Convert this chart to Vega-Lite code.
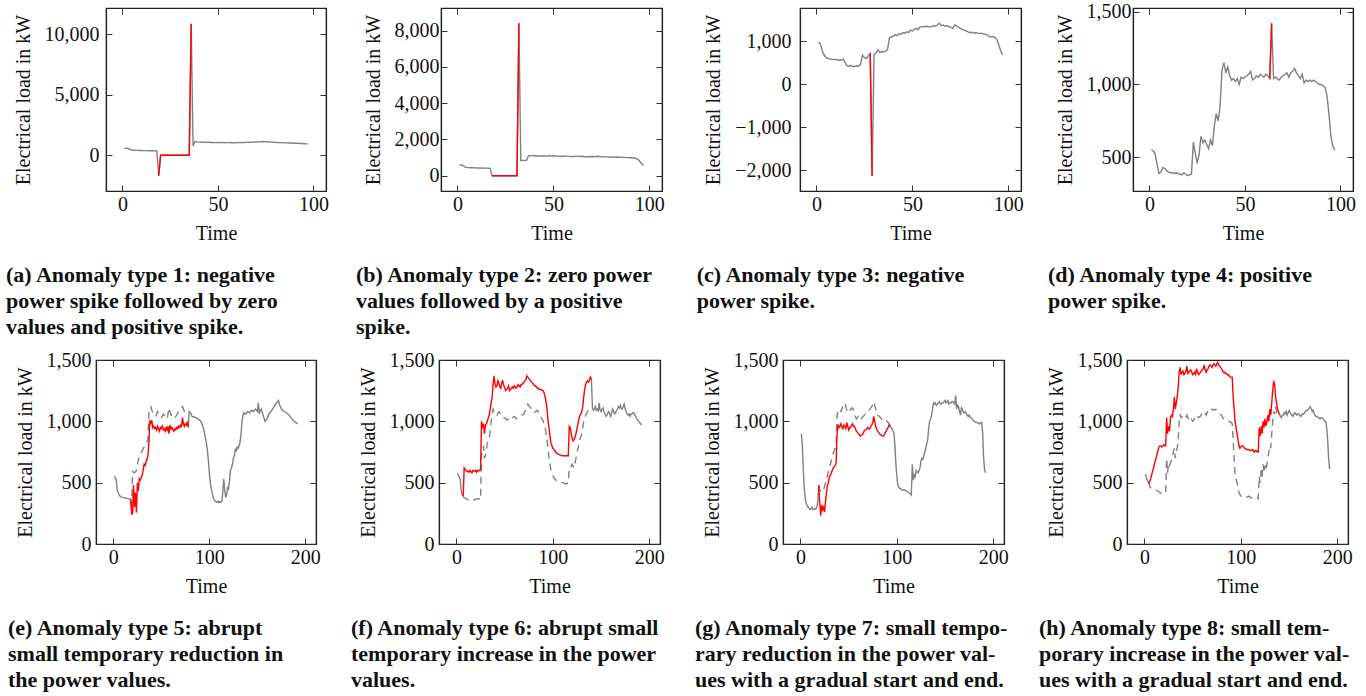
{
"$schema": "https://vega.github.io/schema/vega-lite/v6.json",
"autosize": {"type": "none"},
"padding": {"left": 96, "top": 8, "right": 1270, "bottom": 688},
"config": {
  "font": "Liberation Serif",
  "view": {"stroke": "#222", "strokeWidth": 1.2},
  "axis": {"labelFont": "Liberation Serif", "labelFontSize": 20, "labelColor": "#111", "titleFont": "Liberation Serif", "titleFontSize": 20, "titleFontWeight": "normal", "titleColor": "#111", "domainColor": "#222", "domainWidth": 1.2, "tickColor": "#333", "tickSize": -6, "tickWidth": 1, "grid": false, "labelFlush": false, "labelOverlap": false},
  "axisX": {"labelPadding": 9, "titlePadding": 9},
  "axisY": {"titlePadding": 11},
  "title": {"font": "Liberation Serif", "fontSize": 22, "fontWeight": "bold", "anchor": "start", "orient": "bottom", "frame": "bounds", "lineHeight": 26, "color": "#111", "offset": 22, "dx": -7}
},
"datasets": {
"a": [
{"t":1,"v":580,"s":"g"},{"t":2,"v":575,"s":"g"},{"t":3,"v":560,"s":"g"},{"t":4,"v":470,"s":"g"},{"t":5,"v":420,"s":"g"},{"t":6,"v":410,"s":"g"},{"t":7,"v":400,"s":"g"},{"t":8,"v":395,"s":"g"},{"t":9,"v":390,"s":"g"},{"t":10,"v":385,"s":"g"},{"t":11,"v":380,"s":"g"},{"t":12,"v":380,"s":"g"},{"t":13,"v":375,"s":"g"},{"t":14,"v":370,"s":"g"},{"t":15,"v":370,"s":"g"},{"t":16,"v":365,"s":"g"},{"t":17,"v":360,"s":"g"},{"t":18,"v":350,"s":"g"},{"t":19,"v":-1700,"s":"g"},{"t":20,"v":0,"s":"g"},{"t":35,"v":0,"s":"g"},{"t":36,"v":10850,"s":"g"},{"t":37,"v":750,"s":"g"},{"t":38,"v":1150,"s":"g"},{"t":39,"v":1100,"s":"g"},{"t":40,"v":1080,"s":"g"},{"t":41,"v":1090,"s":"g"},{"t":42,"v":1070,"s":"g"},{"t":43,"v":1080,"s":"g"},{"t":44,"v":1060,"s":"g"},{"t":45,"v":1070,"s":"g"},{"t":46,"v":1050,"s":"g"},{"t":47,"v":1060,"s":"g"},{"t":48,"v":1050,"s":"g"},{"t":49,"v":1040,"s":"g"},{"t":50,"v":1050,"s":"g"},{"t":51,"v":1040,"s":"g"},{"t":52,"v":1050,"s":"g"},{"t":53,"v":1040,"s":"g"},{"t":54,"v":1030,"s":"g"},{"t":55,"v":1040,"s":"g"},{"t":56,"v":1050,"s":"g"},{"t":57,"v":1030,"s":"g"},{"t":58,"v":1040,"s":"g"},{"t":59,"v":1030,"s":"g"},{"t":60,"v":1040,"s":"g"},{"t":61,"v":1060,"s":"g"},{"t":62,"v":1050,"s":"g"},{"t":63,"v":1040,"s":"g"},{"t":64,"v":1050,"s":"g"},{"t":65,"v":1060,"s":"g"},{"t":66,"v":1070,"s":"g"},{"t":67,"v":1060,"s":"g"},{"t":68,"v":1070,"s":"g"},{"t":69,"v":1080,"s":"g"},{"t":70,"v":1090,"s":"g"},{"t":71,"v":1100,"s":"g"},{"t":72,"v":1120,"s":"g"},{"t":73,"v":1110,"s":"g"},{"t":74,"v":1130,"s":"g"},{"t":75,"v":1100,"s":"g"},{"t":76,"v":1110,"s":"g"},{"t":77,"v":1090,"s":"g"},{"t":78,"v":1080,"s":"g"},{"t":79,"v":1070,"s":"g"},{"t":80,"v":1060,"s":"g"},{"t":81,"v":1050,"s":"g"},{"t":82,"v":1040,"s":"g"},{"t":83,"v":1040,"s":"g"},{"t":84,"v":1030,"s":"g"},{"t":85,"v":1020,"s":"g"},{"t":86,"v":1020,"s":"g"},{"t":87,"v":1010,"s":"g"},{"t":88,"v":1000,"s":"g"},{"t":89,"v":1000,"s":"g"},{"t":90,"v":990,"s":"g"},{"t":91,"v":980,"s":"g"},{"t":92,"v":980,"s":"g"},{"t":93,"v":970,"s":"g"},{"t":94,"v":960,"s":"g"},{"t":95,"v":950,"s":"g"},{"t":96,"v":940,"s":"g"},{"t":97,"v":930,"s":"g"},
{"t":19,"v":-1700,"s":"r"},{"t":20,"v":0,"s":"r"},{"t":35,"v":0,"s":"r"},{"t":36,"v":10850,"s":"r"}
],
"b": [
{"t":1,"v":600,"s":"g"},{"t":2,"v":590,"s":"g"},{"t":3,"v":560,"s":"g"},{"t":4,"v":470,"s":"g"},{"t":5,"v":450,"s":"g"},{"t":6,"v":445,"s":"g"},{"t":7,"v":440,"s":"g"},{"t":8,"v":440,"s":"g"},{"t":9,"v":435,"s":"g"},{"t":10,"v":430,"s":"g"},{"t":11,"v":430,"s":"g"},{"t":12,"v":425,"s":"g"},{"t":13,"v":420,"s":"g"},{"t":14,"v":420,"s":"g"},{"t":15,"v":420,"s":"g"},{"t":16,"v":415,"s":"g"},{"t":17,"v":410,"s":"g"},{"t":18,"v":0,"s":"g"},{"t":31,"v":0,"s":"g"},{"t":32,"v":8400,"s":"g"},{"t":33,"v":840,"s":"g"},{"t":34,"v":840,"s":"g"},{"t":35,"v":845,"s":"g"},{"t":36,"v":850,"s":"g"},{"t":37,"v":1100,"s":"g"},{"t":38,"v":1120,"s":"g"},{"t":39,"v":1110,"s":"g"},{"t":40,"v":1100,"s":"g"},{"t":41,"v":1090,"s":"g"},{"t":42,"v":1100,"s":"g"},{"t":43,"v":1080,"s":"g"},{"t":44,"v":1090,"s":"g"},{"t":45,"v":1100,"s":"g"},{"t":46,"v":1080,"s":"g"},{"t":47,"v":1090,"s":"g"},{"t":48,"v":1110,"s":"g"},{"t":49,"v":1090,"s":"g"},{"t":50,"v":1100,"s":"g"},{"t":51,"v":1080,"s":"g"},{"t":52,"v":1090,"s":"g"},{"t":53,"v":1070,"s":"g"},{"t":54,"v":1080,"s":"g"},{"t":55,"v":1060,"s":"g"},{"t":56,"v":1090,"s":"g"},{"t":57,"v":1080,"s":"g"},{"t":58,"v":1070,"s":"g"},{"t":59,"v":1060,"s":"g"},{"t":60,"v":1050,"s":"g"},{"t":61,"v":1080,"s":"g"},{"t":62,"v":1070,"s":"g"},{"t":63,"v":1080,"s":"g"},{"t":64,"v":1060,"s":"g"},{"t":65,"v":1070,"s":"g"},{"t":66,"v":1050,"s":"g"},{"t":67,"v":1030,"s":"g"},{"t":68,"v":1060,"s":"g"},{"t":69,"v":1050,"s":"g"},{"t":70,"v":1060,"s":"g"},{"t":71,"v":1050,"s":"g"},{"t":72,"v":1060,"s":"g"},{"t":73,"v":1070,"s":"g"},{"t":74,"v":1060,"s":"g"},{"t":75,"v":1050,"s":"g"},{"t":76,"v":1040,"s":"g"},{"t":77,"v":1050,"s":"g"},{"t":78,"v":1040,"s":"g"},{"t":79,"v":1030,"s":"g"},{"t":80,"v":1040,"s":"g"},{"t":81,"v":1030,"s":"g"},{"t":82,"v":1020,"s":"g"},{"t":83,"v":1030,"s":"g"},{"t":84,"v":1020,"s":"g"},{"t":85,"v":1010,"s":"g"},{"t":86,"v":1020,"s":"g"},{"t":87,"v":1010,"s":"g"},{"t":88,"v":1000,"s":"g"},{"t":89,"v":1000,"s":"g"},{"t":90,"v":990,"s":"g"},{"t":91,"v":990,"s":"g"},{"t":92,"v":980,"s":"g"},{"t":93,"v":960,"s":"g"},{"t":94,"v":900,"s":"g"},{"t":95,"v":800,"s":"g"},{"t":96,"v":660,"s":"g"},{"t":97,"v":580,"s":"g"},
{"t":18,"v":0,"s":"r"},{"t":31,"v":0,"s":"r"},{"t":32,"v":8400,"s":"r"}
],
"c": [
{"t":1,"v":985,"s":"g"},{"t":2,"v":940,"s":"g"},{"t":3,"v":780,"s":"g"},{"t":4,"v":680,"s":"g"},{"t":5,"v":620,"s":"g"},{"t":6,"v":600,"s":"g"},{"t":7,"v":590,"s":"g"},{"t":8,"v":580,"s":"g"},{"t":9,"v":575,"s":"g"},{"t":10,"v":580,"s":"g"},{"t":11,"v":570,"s":"g"},{"t":12,"v":560,"s":"g"},{"t":13,"v":570,"s":"g"},{"t":14,"v":580,"s":"g"},{"t":15,"v":500,"s":"g"},{"t":16,"v":430,"s":"g"},{"t":17,"v":420,"s":"g"},{"t":18,"v":440,"s":"g"},{"t":19,"v":410,"s":"g"},{"t":20,"v":420,"s":"g"},{"t":21,"v":430,"s":"g"},{"t":22,"v":420,"s":"g"},{"t":23,"v":470,"s":"g"},{"t":24,"v":680,"s":"g"},{"t":25,"v":620,"s":"g"},{"t":26,"v":600,"s":"g"},{"t":27,"v":660,"s":"g"},{"t":28,"v":720,"s":"g"},{"t":29,"v":-2130,"s":"g"},{"t":30,"v":700,"s":"g"},{"t":31,"v":720,"s":"g"},{"t":32,"v":800,"s":"g"},{"t":33,"v":740,"s":"g"},{"t":34,"v":760,"s":"g"},{"t":35,"v":750,"s":"g"},{"t":36,"v":770,"s":"g"},{"t":37,"v":800,"s":"g"},{"t":38,"v":1080,"s":"g"},{"t":39,"v":1100,"s":"g"},{"t":40,"v":1120,"s":"g"},{"t":41,"v":1150,"s":"g"},{"t":42,"v":1130,"s":"g"},{"t":43,"v":1180,"s":"g"},{"t":44,"v":1160,"s":"g"},{"t":45,"v":1200,"s":"g"},{"t":46,"v":1190,"s":"g"},{"t":47,"v":1220,"s":"g"},{"t":48,"v":1200,"s":"g"},{"t":49,"v":1260,"s":"g"},{"t":50,"v":1240,"s":"g"},{"t":51,"v":1280,"s":"g"},{"t":52,"v":1300,"s":"g"},{"t":53,"v":1270,"s":"g"},{"t":54,"v":1340,"s":"g"},{"t":55,"v":1330,"s":"g"},{"t":56,"v":1350,"s":"g"},{"t":57,"v":1340,"s":"g"},{"t":58,"v":1350,"s":"g"},{"t":59,"v":1330,"s":"g"},{"t":60,"v":1340,"s":"g"},{"t":61,"v":1360,"s":"g"},{"t":62,"v":1350,"s":"g"},{"t":63,"v":1380,"s":"g"},{"t":64,"v":1420,"s":"g"},{"t":65,"v":1370,"s":"g"},{"t":66,"v":1380,"s":"g"},{"t":67,"v":1350,"s":"g"},{"t":68,"v":1360,"s":"g"},{"t":69,"v":1340,"s":"g"},{"t":70,"v":1330,"s":"g"},{"t":71,"v":1300,"s":"g"},{"t":72,"v":1380,"s":"g"},{"t":73,"v":1360,"s":"g"},{"t":74,"v":1330,"s":"g"},{"t":75,"v":1300,"s":"g"},{"t":76,"v":1280,"s":"g"},{"t":77,"v":1260,"s":"g"},{"t":78,"v":1240,"s":"g"},{"t":79,"v":1220,"s":"g"},{"t":80,"v":1200,"s":"g"},{"t":81,"v":1210,"s":"g"},{"t":82,"v":1190,"s":"g"},{"t":83,"v":1200,"s":"g"},{"t":84,"v":1190,"s":"g"},{"t":85,"v":1180,"s":"g"},{"t":86,"v":1190,"s":"g"},{"t":87,"v":1170,"s":"g"},{"t":88,"v":1160,"s":"g"},{"t":89,"v":1150,"s":"g"},{"t":90,"v":1110,"s":"g"},{"t":91,"v":1100,"s":"g"},{"t":92,"v":1110,"s":"g"},{"t":93,"v":1090,"s":"g"},{"t":94,"v":1040,"s":"g"},{"t":95,"v":920,"s":"g"},{"t":96,"v":780,"s":"g"},{"t":97,"v":680,"s":"g"},
{"t":28,"v":720,"s":"r"},{"t":29,"v":-2130,"s":"r"}
],
"d": [
{"t":1,"v":550,"s":"g"},{"t":2,"v":545,"s":"g"},{"t":3,"v":525,"s":"g"},{"t":4,"v":450,"s":"g"},{"t":5,"v":390,"s":"g"},{"t":6,"v":400,"s":"g"},{"t":7,"v":430,"s":"g"},{"t":8,"v":425,"s":"g"},{"t":9,"v":410,"s":"g"},{"t":10,"v":400,"s":"g"},{"t":11,"v":395,"s":"g"},{"t":12,"v":395,"s":"g"},{"t":13,"v":390,"s":"g"},{"t":14,"v":395,"s":"g"},{"t":15,"v":390,"s":"g"},{"t":16,"v":385,"s":"g"},{"t":17,"v":380,"s":"g"},{"t":18,"v":395,"s":"g"},{"t":19,"v":385,"s":"g"},{"t":20,"v":375,"s":"g"},{"t":21,"v":380,"s":"g"},{"t":22,"v":385,"s":"g"},{"t":23,"v":605,"s":"g"},{"t":24,"v":530,"s":"g"},{"t":25,"v":460,"s":"g"},{"t":26,"v":520,"s":"g"},{"t":27,"v":645,"s":"g"},{"t":28,"v":600,"s":"g"},{"t":29,"v":620,"s":"g"},{"t":30,"v":590,"s":"g"},{"t":31,"v":560,"s":"g"},{"t":32,"v":620,"s":"g"},{"t":33,"v":580,"s":"g"},{"t":34,"v":720,"s":"g"},{"t":35,"v":800,"s":"g"},{"t":36,"v":750,"s":"g"},{"t":37,"v":850,"s":"g"},{"t":38,"v":1100,"s":"g"},{"t":39,"v":1150,"s":"g"},{"t":40,"v":1080,"s":"g"},{"t":41,"v":1120,"s":"g"},{"t":42,"v":1060,"s":"g"},{"t":43,"v":1030,"s":"g"},{"t":44,"v":1040,"s":"g"},{"t":45,"v":1020,"s":"g"},{"t":46,"v":1040,"s":"g"},{"t":47,"v":1000,"s":"g"},{"t":48,"v":1050,"s":"g"},{"t":49,"v":1040,"s":"g"},{"t":50,"v":1050,"s":"g"},{"t":51,"v":1060,"s":"g"},{"t":52,"v":1070,"s":"g"},{"t":53,"v":1090,"s":"g"},{"t":54,"v":1030,"s":"g"},{"t":55,"v":1040,"s":"g"},{"t":56,"v":1060,"s":"g"},{"t":57,"v":1050,"s":"g"},{"t":58,"v":1070,"s":"g"},{"t":59,"v":1060,"s":"g"},{"t":60,"v":1050,"s":"g"},{"t":61,"v":1070,"s":"g"},{"t":62,"v":1060,"s":"g"},{"t":63,"v":1040,"s":"g"},{"t":64,"v":1420,"s":"g"},{"t":65,"v":1040,"s":"g"},{"t":66,"v":1050,"s":"g"},{"t":67,"v":1040,"s":"g"},{"t":68,"v":1030,"s":"g"},{"t":69,"v":1050,"s":"g"},{"t":70,"v":1060,"s":"g"},{"t":71,"v":1070,"s":"g"},{"t":72,"v":1080,"s":"g"},{"t":73,"v":1050,"s":"g"},{"t":74,"v":1080,"s":"g"},{"t":75,"v":1090,"s":"g"},{"t":76,"v":1110,"s":"g"},{"t":77,"v":1080,"s":"g"},{"t":78,"v":1060,"s":"g"},{"t":79,"v":1040,"s":"g"},{"t":80,"v":1070,"s":"g"},{"t":81,"v":1010,"s":"g"},{"t":82,"v":1030,"s":"g"},{"t":83,"v":1020,"s":"g"},{"t":84,"v":1030,"s":"g"},{"t":85,"v":1020,"s":"g"},{"t":86,"v":1030,"s":"g"},{"t":87,"v":1020,"s":"g"},{"t":88,"v":1010,"s":"g"},{"t":89,"v":1000,"s":"g"},{"t":90,"v":1000,"s":"g"},{"t":91,"v":990,"s":"g"},{"t":92,"v":980,"s":"g"},{"t":93,"v":920,"s":"g"},{"t":94,"v":800,"s":"g"},{"t":95,"v":650,"s":"g"},{"t":96,"v":580,"s":"g"},{"t":97,"v":550,"s":"g"},
{"t":63,"v":1040,"s":"r"},{"t":64,"v":1420,"s":"r"}
],
"e": [
{"t":1,"v":555,"s":"p"},{"t":2,"v":540,"s":"p"},{"t":3,"v":520,"s":"p"},{"t":4,"v":440,"s":"p"},{"t":5,"v":420,"s":"p"},{"t":6,"v":400,"s":"p"},{"t":7,"v":390,"s":"p"},{"t":8,"v":385,"s":"p"},{"t":9,"v":380,"s":"p"},{"t":10,"v":378,"s":"p"},{"t":12,"v":375,"s":"p"},{"t":14,"v":372,"s":"p"},{"t":16,"v":370,"s":"p"},{"t":18,"v":365,"s":"p"},
{"t":18,"v":365,"s":"o"},{"t":19,"v":280,"s":"o"},{"t":20,"v":590,"s":"o"},{"t":22,"v":580,"s":"o"},{"t":24,"v":600,"s":"o"},{"t":26,"v":690,"s":"o"},{"t":28,"v":720,"s":"o"},{"t":30,"v":760,"s":"o"},{"t":32,"v":790,"s":"o"},{"t":34,"v":814,"s":"o"},{"t":36,"v":850,"s":"o"},{"t":37,"v":1090,"s":"o"},{"t":38,"v":1110,"s":"o"},{"t":39,"v":1120,"s":"o"},{"t":40,"v":1090,"s":"o"},{"t":42,"v":1060,"s":"o"},{"t":44,"v":1040,"s":"o"},{"t":46,"v":1080,"s":"o"},{"t":48,"v":1050,"s":"o"},{"t":50,"v":1030,"s":"o"},{"t":52,"v":1060,"s":"o"},{"t":54,"v":1040,"s":"o"},{"t":56,"v":1020,"s":"o"},{"t":58,"v":1110,"s":"o"},{"t":60,"v":1050,"s":"o"},{"t":62,"v":1060,"s":"o"},{"t":64,"v":1030,"s":"o"},{"t":66,"v":1050,"s":"o"},{"t":68,"v":1080,"s":"o"},{"t":70,"v":1100,"s":"o"},{"t":72,"v":1120,"s":"o"},{"t":74,"v":1080,"s":"o"},{"t":76,"v":1090,"s":"o"},{"t":78,"v":1080,"s":"o"},
{"t":18,"v":365,"s":"r"},{"t":19,"v":245,"s":"r"},{"t":20,"v":250,"s":"r"},{"t":21,"v":480,"s":"r"},{"t":22,"v":300,"s":"r"},{"t":23,"v":420,"s":"r"},{"t":24,"v":256,"s":"r"},{"t":25,"v":500,"s":"r"},{"t":26,"v":430,"s":"r"},{"t":27,"v":530,"s":"r"},{"t":28,"v":520,"s":"r"},{"t":29,"v":540,"s":"r"},{"t":30,"v":560,"s":"r"},{"t":31,"v":600,"s":"r"},{"t":32,"v":650,"s":"r"},{"t":33,"v":640,"s":"r"},{"t":34,"v":670,"s":"r"},{"t":35,"v":690,"s":"r"},{"t":36,"v":720,"s":"r"},{"t":37,"v":820,"s":"r"},{"t":38,"v":1000,"s":"r"},{"t":39,"v":985,"s":"r"},{"t":40,"v":1010,"s":"r"},{"t":41,"v":950,"s":"r"},{"t":42,"v":960,"s":"r"},{"t":43,"v":940,"s":"r"},{"t":44,"v":950,"s":"r"},{"t":45,"v":930,"s":"r"},{"t":46,"v":960,"s":"r"},{"t":47,"v":940,"s":"r"},{"t":48,"v":920,"s":"r"},{"t":49,"v":950,"s":"r"},{"t":50,"v":940,"s":"r"},{"t":51,"v":960,"s":"r"},{"t":52,"v":930,"s":"r"},{"t":53,"v":940,"s":"r"},{"t":54,"v":920,"s":"r"},{"t":55,"v":950,"s":"r"},{"t":56,"v":930,"s":"r"},{"t":57,"v":960,"s":"r"},{"t":58,"v":900,"s":"r"},{"t":59,"v":970,"s":"r"},{"t":60,"v":940,"s":"r"},{"t":61,"v":950,"s":"r"},{"t":62,"v":930,"s":"r"},{"t":63,"v":920,"s":"r"},{"t":64,"v":940,"s":"r"},{"t":65,"v":930,"s":"r"},{"t":66,"v":950,"s":"r"},{"t":67,"v":940,"s":"r"},{"t":68,"v":960,"s":"r"},{"t":69,"v":950,"s":"r"},{"t":70,"v":970,"s":"r"},{"t":71,"v":960,"s":"r"},{"t":72,"v":1030,"s":"r"},{"t":73,"v":980,"s":"r"},{"t":74,"v":960,"s":"r"},{"t":75,"v":980,"s":"r"},{"t":76,"v":970,"s":"r"},{"t":77,"v":990,"s":"r"},{"t":78,"v":950,"s":"r"},
{"t":78,"v":950,"s":"q"},{"t":79,"v":1080,"s":"q"},{"t":80,"v":1075,"s":"q"},{"t":81,"v":1060,"s":"q"},{"t":82,"v":1040,"s":"q"},{"t":84,"v":1035,"s":"q"},{"t":86,"v":1030,"s":"q"},{"t":88,"v":1020,"s":"q"},{"t":90,"v":1010,"s":"q"},{"t":92,"v":985,"s":"q"},{"t":94,"v":940,"s":"q"},{"t":95,"v":900,"s":"q"},{"t":96,"v":860,"s":"q"},{"t":97,"v":820,"s":"q"},{"t":98,"v":760,"s":"q"},{"t":99,"v":680,"s":"q"},{"t":100,"v":580,"s":"q"},{"t":101,"v":500,"s":"q"},{"t":102,"v":450,"s":"q"},{"t":103,"v":410,"s":"q"},{"t":104,"v":380,"s":"q"},{"t":105,"v":360,"s":"q"},{"t":106,"v":350,"s":"q"},{"t":107,"v":345,"s":"q"},{"t":108,"v":340,"s":"q"},{"t":109,"v":350,"s":"q"},{"t":110,"v":340,"s":"q"},{"t":111,"v":345,"s":"q"},{"t":112,"v":340,"s":"q"},{"t":113,"v":350,"s":"q"},{"t":114,"v":420,"s":"q"},{"t":115,"v":530,"s":"q"},{"t":116,"v":440,"s":"q"},{"t":117,"v":380,"s":"q"},{"t":118,"v":400,"s":"q"},{"t":119,"v":460,"s":"q"},{"t":120,"v":450,"s":"q"},{"t":121,"v":520,"s":"q"},{"t":122,"v":600,"s":"q"},{"t":123,"v":620,"s":"q"},{"t":124,"v":650,"s":"q"},{"t":125,"v":700,"s":"q"},{"t":126,"v":720,"s":"q"},{"t":127,"v":770,"s":"q"},{"t":128,"v":760,"s":"q"},{"t":129,"v":790,"s":"q"},{"t":130,"v":780,"s":"q"},{"t":131,"v":800,"s":"q"},{"t":132,"v":830,"s":"q"},{"t":133,"v":900,"s":"q"},{"t":134,"v":1000,"s":"q"},{"t":135,"v":1050,"s":"q"},{"t":136,"v":1070,"s":"q"},{"t":137,"v":1060,"s":"q"},{"t":138,"v":1060,"s":"q"},{"t":140,"v":1080,"s":"q"},{"t":142,"v":1070,"s":"q"},{"t":144,"v":1090,"s":"q"},{"t":146,"v":1080,"s":"q"},{"t":148,"v":1100,"s":"q"},{"t":150,"v":1080,"s":"q"},{"t":151,"v":1150,"s":"q"},{"t":152,"v":1060,"s":"q"},{"t":153,"v":1090,"s":"q"},{"t":154,"v":1100,"s":"q"},{"t":156,"v":1050,"s":"q"},{"t":158,"v":1000,"s":"q"},{"t":160,"v":1020,"s":"q"},{"t":162,"v":1060,"s":"q"},{"t":164,"v":1080,"s":"q"},{"t":166,"v":1100,"s":"q"},{"t":168,"v":1130,"s":"q"},{"t":170,"v":1150,"s":"q"},{"t":172,"v":1170,"s":"q"},{"t":173,"v":1140,"s":"q"},{"t":174,"v":1120,"s":"q"},{"t":176,"v":1090,"s":"q"},{"t":178,"v":1080,"s":"q"},{"t":180,"v":1070,"s":"q"},{"t":182,"v":1060,"s":"q"},{"t":184,"v":1040,"s":"q"},{"t":186,"v":1020,"s":"q"},{"t":188,"v":1000,"s":"q"},{"t":190,"v":990,"s":"q"},{"t":192,"v":980,"s":"q"}
],
"f": [
{"t":1,"v":575,"s":"p"},{"t":2,"v":560,"s":"p"},{"t":3,"v":545,"s":"p"},{"t":4,"v":520,"s":"p"},{"t":5,"v":430,"s":"p"},{"t":6,"v":400,"s":"p"},{"t":7,"v":390,"s":"p"},
{"t":7,"v":390,"s":"o"},{"t":8,"v":375,"s":"o"},{"t":10,"v":370,"s":"o"},{"t":12,"v":360,"s":"o"},{"t":14,"v":350,"s":"o"},{"t":16,"v":355,"s":"o"},{"t":18,"v":360,"s":"o"},{"t":20,"v":365,"s":"o"},{"t":22,"v":370,"s":"o"},{"t":24,"v":365,"s":"o"},{"t":25,"v":360,"s":"o"},{"t":26,"v":730,"s":"o"},{"t":27,"v":750,"s":"o"},{"t":28,"v":800,"s":"o"},{"t":29,"v":700,"s":"o"},{"t":30,"v":720,"s":"o"},{"t":32,"v":820,"s":"o"},{"t":34,"v":860,"s":"o"},{"t":36,"v":1000,"s":"o"},{"t":38,"v":1100,"s":"o"},{"t":40,"v":1060,"s":"o"},{"t":42,"v":1050,"s":"o"},{"t":44,"v":1080,"s":"o"},{"t":46,"v":1060,"s":"o"},{"t":48,"v":1030,"s":"o"},{"t":50,"v":1030,"s":"o"},{"t":52,"v":1010,"s":"o"},{"t":54,"v":1020,"s":"o"},{"t":56,"v":1010,"s":"o"},{"t":58,"v":1030,"s":"o"},{"t":60,"v":1040,"s":"o"},{"t":62,"v":1020,"s":"o"},{"t":64,"v":1030,"s":"o"},{"t":66,"v":1040,"s":"o"},{"t":68,"v":1050,"s":"o"},{"t":70,"v":1060,"s":"o"},{"t":72,"v":1100,"s":"o"},{"t":74,"v":1140,"s":"o"},{"t":76,"v":1120,"s":"o"},{"t":78,"v":1100,"s":"o"},{"t":80,"v":1070,"s":"o"},{"t":82,"v":1080,"s":"o"},{"t":84,"v":1090,"s":"o"},{"t":86,"v":1040,"s":"o"},{"t":88,"v":1030,"s":"o"},{"t":90,"v":1000,"s":"o"},{"t":92,"v":950,"s":"o"},{"t":94,"v":850,"s":"o"},{"t":96,"v":700,"s":"o"},{"t":98,"v":600,"s":"o"},{"t":100,"v":560,"s":"o"},{"t":102,"v":530,"s":"o"},{"t":104,"v":515,"s":"o"},{"t":106,"v":510,"s":"o"},{"t":108,"v":505,"s":"o"},{"t":110,"v":500,"s":"o"},{"t":112,"v":495,"s":"o"},{"t":114,"v":490,"s":"o"},{"t":116,"v":500,"s":"o"},{"t":117,"v":620,"s":"o"},{"t":118,"v":620,"s":"o"},{"t":120,"v":650,"s":"o"},{"t":122,"v":620,"s":"o"},{"t":124,"v":700,"s":"o"},{"t":126,"v":780,"s":"o"},{"t":128,"v":850,"s":"o"},{"t":130,"v":900,"s":"o"},{"t":132,"v":1000,"s":"o"},{"t":134,"v":1050,"s":"o"},{"t":136,"v":1080,"s":"o"},{"t":138,"v":1100,"s":"o"},{"t":140,"v":1110,"s":"o"},
{"t":7,"v":390,"s":"r"},{"t":8,"v":620,"s":"r"},{"t":9,"v":610,"s":"r"},{"t":10,"v":600,"s":"r"},{"t":11,"v":590,"s":"r"},{"t":12,"v":595,"s":"r"},{"t":13,"v":585,"s":"r"},{"t":14,"v":600,"s":"r"},{"t":15,"v":590,"s":"r"},{"t":16,"v":580,"s":"r"},{"t":17,"v":600,"s":"r"},{"t":18,"v":595,"s":"r"},{"t":19,"v":590,"s":"r"},{"t":20,"v":600,"s":"r"},{"t":21,"v":585,"s":"r"},{"t":22,"v":600,"s":"r"},{"t":23,"v":595,"s":"r"},{"t":24,"v":600,"s":"r"},{"t":25,"v":610,"s":"r"},{"t":26,"v":1000,"s":"r"},{"t":27,"v":960,"s":"r"},{"t":28,"v":980,"s":"r"},{"t":29,"v":900,"s":"r"},{"t":30,"v":970,"s":"r"},{"t":31,"v":980,"s":"r"},{"t":32,"v":1000,"s":"r"},{"t":33,"v":1030,"s":"r"},{"t":34,"v":1050,"s":"r"},{"t":35,"v":1100,"s":"r"},{"t":36,"v":1150,"s":"r"},{"t":37,"v":1200,"s":"r"},{"t":38,"v":1300,"s":"r"},{"t":39,"v":1370,"s":"r"},{"t":40,"v":1300,"s":"r"},{"t":41,"v":1280,"s":"r"},{"t":42,"v":1290,"s":"r"},{"t":43,"v":1330,"s":"r"},{"t":44,"v":1310,"s":"r"},{"t":45,"v":1280,"s":"r"},{"t":46,"v":1270,"s":"r"},{"t":47,"v":1320,"s":"r"},{"t":48,"v":1330,"s":"r"},{"t":49,"v":1290,"s":"r"},{"t":50,"v":1280,"s":"r"},{"t":51,"v":1250,"s":"r"},{"t":52,"v":1260,"s":"r"},{"t":53,"v":1270,"s":"r"},{"t":54,"v":1290,"s":"r"},{"t":55,"v":1250,"s":"r"},{"t":56,"v":1260,"s":"r"},{"t":57,"v":1270,"s":"r"},{"t":58,"v":1280,"s":"r"},{"t":59,"v":1270,"s":"r"},{"t":60,"v":1290,"s":"r"},{"t":61,"v":1280,"s":"r"},{"t":62,"v":1270,"s":"r"},{"t":63,"v":1280,"s":"r"},{"t":64,"v":1300,"s":"r"},{"t":65,"v":1290,"s":"r"},{"t":66,"v":1280,"s":"r"},{"t":67,"v":1300,"s":"r"},{"t":68,"v":1300,"s":"r"},{"t":69,"v":1310,"s":"r"},{"t":70,"v":1320,"s":"r"},{"t":71,"v":1330,"s":"r"},{"t":72,"v":1340,"s":"r"},{"t":73,"v":1370,"s":"r"},{"t":74,"v":1360,"s":"r"},{"t":75,"v":1350,"s":"r"},{"t":76,"v":1340,"s":"r"},{"t":77,"v":1330,"s":"r"},{"t":78,"v":1320,"s":"r"},{"t":79,"v":1310,"s":"r"},{"t":80,"v":1300,"s":"r"},{"t":81,"v":1290,"s":"r"},{"t":82,"v":1290,"s":"r"},{"t":83,"v":1280,"s":"r"},{"t":84,"v":1270,"s":"r"},{"t":85,"v":1270,"s":"r"},{"t":86,"v":1260,"s":"r"},{"t":87,"v":1260,"s":"r"},{"t":88,"v":1260,"s":"r"},{"t":89,"v":1250,"s":"r"},{"t":90,"v":1250,"s":"r"},{"t":91,"v":1230,"s":"r"},{"t":92,"v":1200,"s":"r"},{"t":93,"v":1150,"s":"r"},{"t":94,"v":1100,"s":"r"},{"t":95,"v":1000,"s":"r"},{"t":96,"v":950,"s":"r"},{"t":97,"v":880,"s":"r"},{"t":98,"v":820,"s":"r"},{"t":99,"v":800,"s":"r"},{"t":100,"v":780,"s":"r"},{"t":101,"v":770,"s":"r"},{"t":102,"v":760,"s":"r"},{"t":103,"v":750,"s":"r"},{"t":104,"v":740,"s":"r"},{"t":105,"v":735,"s":"r"},{"t":106,"v":730,"s":"r"},{"t":108,"v":725,"s":"r"},{"t":110,"v":720,"s":"r"},{"t":112,"v":720,"s":"r"},{"t":114,"v":720,"s":"r"},{"t":116,"v":720,"s":"r"},{"t":117,"v":960,"s":"r"},{"t":118,"v":950,"s":"r"},{"t":119,"v":900,"s":"r"},{"t":120,"v":860,"s":"r"},{"t":121,"v":840,"s":"r"},{"t":122,"v":850,"s":"r"},{"t":123,"v":870,"s":"r"},{"t":124,"v":900,"s":"r"},{"t":125,"v":940,"s":"r"},{"t":126,"v":980,"s":"r"},{"t":127,"v":1020,"s":"r"},{"t":128,"v":1050,"s":"r"},{"t":129,"v":1060,"s":"r"},{"t":130,"v":1080,"s":"r"},{"t":131,"v":1120,"s":"r"},{"t":132,"v":1200,"s":"r"},{"t":133,"v":1260,"s":"r"},{"t":134,"v":1300,"s":"r"},{"t":135,"v":1320,"s":"r"},{"t":136,"v":1330,"s":"r"},{"t":137,"v":1320,"s":"r"},{"t":138,"v":1340,"s":"r"},{"t":139,"v":1360,"s":"r"},{"t":140,"v":1340,"s":"r"},
{"t":140,"v":1340,"s":"q"},{"t":141,"v":1110,"s":"q"},{"t":142,"v":1090,"s":"q"},{"t":143,"v":1100,"s":"q"},{"t":144,"v":1120,"s":"q"},{"t":145,"v":1090,"s":"q"},{"t":146,"v":1100,"s":"q"},{"t":147,"v":1080,"s":"q"},{"t":148,"v":1150,"s":"q"},{"t":149,"v":1090,"s":"q"},{"t":150,"v":1080,"s":"q"},{"t":151,"v":1100,"s":"q"},{"t":152,"v":1110,"s":"q"},{"t":153,"v":1080,"s":"q"},{"t":154,"v":1060,"s":"q"},{"t":155,"v":1040,"s":"q"},{"t":156,"v":1050,"s":"q"},{"t":157,"v":1070,"s":"q"},{"t":158,"v":1080,"s":"q"},{"t":159,"v":1060,"s":"q"},{"t":160,"v":1040,"s":"q"},{"t":161,"v":1070,"s":"q"},{"t":162,"v":1100,"s":"q"},{"t":163,"v":1080,"s":"q"},{"t":164,"v":1060,"s":"q"},{"t":165,"v":1070,"s":"q"},{"t":166,"v":1090,"s":"q"},{"t":167,"v":1100,"s":"q"},{"t":168,"v":1120,"s":"q"},{"t":169,"v":1110,"s":"q"},{"t":170,"v":1130,"s":"q"},{"t":171,"v":1100,"s":"q"},{"t":172,"v":1100,"s":"q"},{"t":173,"v":1120,"s":"q"},{"t":174,"v":1140,"s":"q"},{"t":175,"v":1100,"s":"q"},{"t":176,"v":1080,"s":"q"},{"t":177,"v":1060,"s":"q"},{"t":178,"v":1050,"s":"q"},{"t":179,"v":1060,"s":"q"},{"t":180,"v":1040,"s":"q"},{"t":181,"v":1060,"s":"q"},{"t":182,"v":1060,"s":"q"},{"t":183,"v":1070,"s":"q"},{"t":184,"v":1070,"s":"q"},{"t":185,"v":1050,"s":"q"},{"t":186,"v":1040,"s":"q"},{"t":187,"v":1020,"s":"q"},{"t":188,"v":1010,"s":"q"},{"t":189,"v":1000,"s":"q"},{"t":190,"v":990,"s":"q"},{"t":191,"v":980,"s":"q"},{"t":192,"v":970,"s":"q"}
],
"g": [
{"t":1,"v":900,"s":"p"},{"t":2,"v":800,"s":"p"},{"t":3,"v":600,"s":"p"},{"t":4,"v":450,"s":"p"},{"t":5,"v":370,"s":"p"},{"t":6,"v":330,"s":"p"},{"t":7,"v":310,"s":"p"},{"t":8,"v":300,"s":"p"},{"t":9,"v":290,"s":"p"},{"t":10,"v":280,"s":"p"},{"t":11,"v":290,"s":"p"},{"t":12,"v":300,"s":"p"},{"t":13,"v":280,"s":"p"},{"t":14,"v":280,"s":"p"},{"t":15,"v":290,"s":"p"},{"t":16,"v":285,"s":"p"},{"t":17,"v":300,"s":"p"},{"t":18,"v":350,"s":"p"},{"t":19,"v":480,"s":"p"},
{"t":19,"v":480,"s":"o"},{"t":20,"v":440,"s":"o"},{"t":22,"v":420,"s":"o"},{"t":24,"v":440,"s":"o"},{"t":26,"v":500,"s":"o"},{"t":28,"v":560,"s":"o"},{"t":30,"v":620,"s":"o"},{"t":32,"v":680,"s":"o"},{"t":34,"v":740,"s":"o"},{"t":36,"v":780,"s":"o"},{"t":37,"v":800,"s":"o"},{"t":38,"v":1050,"s":"o"},{"t":40,"v":1100,"s":"o"},{"t":42,"v":1080,"s":"o"},{"t":44,"v":1120,"s":"o"},{"t":46,"v":1150,"s":"o"},{"t":48,"v":1090,"s":"o"},{"t":50,"v":1070,"s":"o"},{"t":52,"v":1100,"s":"o"},{"t":54,"v":1110,"s":"o"},{"t":56,"v":1060,"s":"o"},{"t":58,"v":1020,"s":"o"},{"t":60,"v":1040,"s":"o"},{"t":62,"v":1010,"s":"o"},{"t":64,"v":1030,"s":"o"},{"t":66,"v":1050,"s":"o"},{"t":68,"v":1060,"s":"o"},{"t":70,"v":1080,"s":"o"},{"t":72,"v":1100,"s":"o"},{"t":74,"v":1120,"s":"o"},{"t":76,"v":1160,"s":"o"},{"t":78,"v":1100,"s":"o"},{"t":80,"v":1050,"s":"o"},{"t":82,"v":1040,"s":"o"},{"t":84,"v":1020,"s":"o"},{"t":86,"v":1000,"s":"o"},{"t":88,"v":1010,"s":"o"},{"t":90,"v":1000,"s":"o"},{"t":92,"v":980,"s":"o"},{"t":93,"v":960,"s":"o"},
{"t":19,"v":480,"s":"r"},{"t":20,"v":330,"s":"r"},{"t":21,"v":230,"s":"r"},{"t":22,"v":320,"s":"r"},{"t":23,"v":280,"s":"r"},{"t":24,"v":300,"s":"r"},{"t":25,"v":260,"s":"r"},{"t":26,"v":350,"s":"r"},{"t":27,"v":420,"s":"r"},{"t":28,"v":480,"s":"r"},{"t":29,"v":500,"s":"r"},{"t":30,"v":550,"s":"r"},{"t":31,"v":560,"s":"r"},{"t":32,"v":580,"s":"r"},{"t":33,"v":600,"s":"r"},{"t":34,"v":620,"s":"r"},{"t":35,"v":630,"s":"r"},{"t":36,"v":640,"s":"r"},{"t":37,"v":660,"s":"r"},{"t":38,"v":900,"s":"r"},{"t":39,"v":975,"s":"r"},{"t":40,"v":950,"s":"r"},{"t":41,"v":960,"s":"r"},{"t":42,"v":980,"s":"r"},{"t":43,"v":950,"s":"r"},{"t":44,"v":940,"s":"r"},{"t":45,"v":970,"s":"r"},{"t":46,"v":960,"s":"r"},{"t":47,"v":940,"s":"r"},{"t":48,"v":990,"s":"r"},{"t":49,"v":960,"s":"r"},{"t":50,"v":930,"s":"r"},{"t":51,"v":950,"s":"r"},{"t":52,"v":950,"s":"r"},{"t":53,"v":970,"s":"r"},{"t":54,"v":980,"s":"r"},{"t":55,"v":960,"s":"r"},{"t":56,"v":960,"s":"r"},{"t":57,"v":940,"s":"r"},{"t":58,"v":920,"s":"r"},{"t":59,"v":910,"s":"r"},{"t":60,"v":900,"s":"r"},{"t":61,"v":890,"s":"r"},{"t":62,"v":880,"s":"r"},{"t":63,"v":890,"s":"r"},{"t":64,"v":890,"s":"r"},{"t":65,"v":900,"s":"r"},{"t":66,"v":920,"s":"r"},{"t":67,"v":930,"s":"r"},{"t":68,"v":930,"s":"r"},{"t":69,"v":940,"s":"r"},{"t":70,"v":950,"s":"r"},{"t":71,"v":940,"s":"r"},{"t":72,"v":940,"s":"r"},{"t":73,"v":960,"s":"r"},{"t":74,"v":970,"s":"r"},{"t":75,"v":990,"s":"r"},{"t":76,"v":1040,"s":"r"},{"t":77,"v":1000,"s":"r"},{"t":78,"v":960,"s":"r"},{"t":79,"v":940,"s":"r"},{"t":80,"v":920,"s":"r"},{"t":81,"v":910,"s":"r"},{"t":82,"v":900,"s":"r"},{"t":83,"v":890,"s":"r"},{"t":84,"v":890,"s":"r"},{"t":85,"v":880,"s":"r"},{"t":86,"v":880,"s":"r"},{"t":87,"v":890,"s":"r"},{"t":88,"v":910,"s":"r"},{"t":89,"v":920,"s":"r"},{"t":90,"v":940,"s":"r"},{"t":91,"v":950,"s":"r"},{"t":92,"v":970,"s":"r"},{"t":93,"v":960,"s":"r"},
{"t":93,"v":960,"s":"q"},{"t":94,"v":950,"s":"q"},{"t":95,"v":940,"s":"q"},{"t":96,"v":920,"s":"q"},{"t":97,"v":900,"s":"q"},{"t":98,"v":800,"s":"q"},{"t":99,"v":650,"s":"q"},{"t":100,"v":550,"s":"q"},{"t":101,"v":480,"s":"q"},{"t":102,"v":460,"s":"q"},{"t":104,"v":450,"s":"q"},{"t":106,"v":440,"s":"q"},{"t":108,"v":440,"s":"q"},{"t":110,"v":430,"s":"q"},{"t":112,"v":420,"s":"q"},{"t":114,"v":410,"s":"q"},{"t":115,"v":400,"s":"q"},{"t":116,"v":650,"s":"q"},{"t":117,"v":520,"s":"q"},{"t":118,"v":560,"s":"q"},{"t":119,"v":540,"s":"q"},{"t":120,"v":600,"s":"q"},{"t":121,"v":590,"s":"q"},{"t":122,"v":580,"s":"q"},{"t":123,"v":600,"s":"q"},{"t":124,"v":620,"s":"q"},{"t":125,"v":680,"s":"q"},{"t":126,"v":700,"s":"q"},{"t":127,"v":690,"s":"q"},{"t":128,"v":720,"s":"q"},{"t":129,"v":750,"s":"q"},{"t":130,"v":780,"s":"q"},{"t":131,"v":820,"s":"q"},{"t":132,"v":850,"s":"q"},{"t":133,"v":950,"s":"q"},{"t":134,"v":1000,"s":"q"},{"t":135,"v":1020,"s":"q"},{"t":136,"v":1050,"s":"q"},{"t":137,"v":1100,"s":"q"},{"t":138,"v":1150,"s":"q"},{"t":139,"v":1140,"s":"q"},{"t":140,"v":1150,"s":"q"},{"t":141,"v":1130,"s":"q"},{"t":142,"v":1140,"s":"q"},{"t":143,"v":1150,"s":"q"},{"t":144,"v":1160,"s":"q"},{"t":145,"v":1140,"s":"q"},{"t":146,"v":1140,"s":"q"},{"t":147,"v":1150,"s":"q"},{"t":148,"v":1150,"s":"q"},{"t":149,"v":1160,"s":"q"},{"t":150,"v":1170,"s":"q"},{"t":151,"v":1150,"s":"q"},{"t":152,"v":1160,"s":"q"},{"t":153,"v":1170,"s":"q"},{"t":154,"v":1140,"s":"q"},{"t":155,"v":1150,"s":"q"},{"t":156,"v":1150,"s":"q"},{"t":157,"v":1160,"s":"q"},{"t":158,"v":1160,"s":"q"},{"t":159,"v":1150,"s":"q"},{"t":160,"v":1140,"s":"q"},{"t":161,"v":1210,"s":"q"},{"t":162,"v":1100,"s":"q"},{"t":163,"v":1130,"s":"q"},{"t":164,"v":1120,"s":"q"},{"t":165,"v":1080,"s":"q"},{"t":166,"v":1050,"s":"q"},{"t":167,"v":1110,"s":"q"},{"t":168,"v":1100,"s":"q"},{"t":169,"v":1070,"s":"q"},{"t":170,"v":1070,"s":"q"},{"t":171,"v":1080,"s":"q"},{"t":172,"v":1060,"s":"q"},{"t":173,"v":1050,"s":"q"},{"t":174,"v":1040,"s":"q"},{"t":175,"v":1050,"s":"q"},{"t":176,"v":1030,"s":"q"},{"t":177,"v":1030,"s":"q"},{"t":178,"v":1020,"s":"q"},{"t":179,"v":1010,"s":"q"},{"t":180,"v":1000,"s":"q"},{"t":181,"v":1000,"s":"q"},{"t":182,"v":990,"s":"q"},{"t":183,"v":990,"s":"q"},{"t":184,"v":990,"s":"q"},{"t":185,"v":980,"s":"q"},{"t":186,"v":980,"s":"q"},{"t":187,"v":990,"s":"q"},{"t":188,"v":990,"s":"q"},{"t":189,"v":900,"s":"q"},{"t":190,"v":700,"s":"q"},{"t":191,"v":600,"s":"q"},{"t":192,"v":580,"s":"q"}
],
"h": [
{"t":1,"v":570,"s":"p"},{"t":2,"v":540,"s":"p"},{"t":3,"v":520,"s":"p"},{"t":4,"v":505,"s":"p"},
{"t":4,"v":505,"s":"o"},{"t":6,"v":460,"s":"o"},{"t":8,"v":450,"s":"o"},{"t":10,"v":440,"s":"o"},{"t":12,"v":440,"s":"o"},{"t":14,"v":430,"s":"o"},{"t":16,"v":420,"s":"o"},{"t":18,"v":410,"s":"o"},{"t":20,"v":420,"s":"o"},{"t":22,"v":420,"s":"o"},{"t":23,"v":700,"s":"o"},{"t":24,"v":580,"s":"o"},{"t":25,"v":660,"s":"o"},{"t":26,"v":640,"s":"o"},{"t":27,"v":660,"s":"o"},{"t":28,"v":680,"s":"o"},{"t":30,"v":750,"s":"o"},{"t":31,"v":780,"s":"o"},{"t":32,"v":700,"s":"o"},{"t":33,"v":760,"s":"o"},{"t":34,"v":780,"s":"o"},{"t":35,"v":850,"s":"o"},{"t":36,"v":1000,"s":"o"},{"t":37,"v":1060,"s":"o"},{"t":38,"v":1030,"s":"o"},{"t":40,"v":1040,"s":"o"},{"t":42,"v":1020,"s":"o"},{"t":44,"v":1050,"s":"o"},{"t":46,"v":1010,"s":"o"},{"t":48,"v":1030,"s":"o"},{"t":50,"v":1000,"s":"o"},{"t":52,"v":1020,"s":"o"},{"t":54,"v":1050,"s":"o"},{"t":56,"v":1030,"s":"o"},{"t":58,"v":1040,"s":"o"},{"t":60,"v":1070,"s":"o"},{"t":62,"v":1080,"s":"o"},{"t":64,"v":1050,"s":"o"},{"t":66,"v":1090,"s":"o"},{"t":68,"v":1080,"s":"o"},{"t":70,"v":1100,"s":"o"},{"t":72,"v":1090,"s":"o"},{"t":74,"v":1100,"s":"o"},{"t":76,"v":1080,"s":"o"},{"t":78,"v":1060,"s":"o"},{"t":80,"v":1050,"s":"o"},{"t":82,"v":1020,"s":"o"},{"t":84,"v":1010,"s":"o"},{"t":86,"v":1000,"s":"o"},{"t":88,"v":1000,"s":"o"},{"t":90,"v":990,"s":"o"},{"t":91,"v":980,"s":"o"},{"t":92,"v":850,"s":"o"},{"t":94,"v":550,"s":"o"},{"t":96,"v":500,"s":"o"},{"t":98,"v":420,"s":"o"},{"t":100,"v":390,"s":"o"},{"t":102,"v":390,"s":"o"},{"t":104,"v":380,"s":"o"},{"t":106,"v":380,"s":"o"},{"t":108,"v":390,"s":"o"},{"t":110,"v":380,"s":"o"},{"t":112,"v":370,"s":"o"},{"t":114,"v":380,"s":"o"},{"t":116,"v":380,"s":"o"},{"t":118,"v":370,"s":"o"},{"t":119,"v":550,"s":"o"},{"t":120,"v":500,"s":"o"},{"t":121,"v":600,"s":"o"},{"t":122,"v":550,"s":"o"},{"t":123,"v":650,"s":"o"},{"t":124,"v":580,"s":"o"},{"t":125,"v":640,"s":"o"},{"t":126,"v":600,"s":"o"},{"t":127,"v":650,"s":"o"},{"t":128,"v":700,"s":"o"},{"t":129,"v":750,"s":"o"},{"t":130,"v":800,"s":"o"},{"t":131,"v":780,"s":"o"},{"t":132,"v":900,"s":"o"},{"t":133,"v":1000,"s":"o"},{"t":134,"v":1080,"s":"o"},{"t":135,"v":1060,"s":"o"},{"t":136,"v":1120,"s":"o"},{"t":137,"v":1080,"s":"o"},{"t":138,"v":1050,"s":"o"},{"t":139,"v":1040,"s":"o"},{"t":140,"v":1060,"s":"o"},
{"t":4,"v":505,"s":"r"},{"t":5,"v":500,"s":"r"},{"t":6,"v":520,"s":"r"},{"t":7,"v":550,"s":"r"},{"t":8,"v":580,"s":"r"},{"t":9,"v":610,"s":"r"},{"t":10,"v":640,"s":"r"},{"t":11,"v":670,"s":"r"},{"t":12,"v":700,"s":"r"},{"t":13,"v":730,"s":"r"},{"t":14,"v":760,"s":"r"},{"t":15,"v":790,"s":"r"},{"t":16,"v":800,"s":"r"},{"t":17,"v":800,"s":"r"},{"t":18,"v":790,"s":"r"},{"t":19,"v":800,"s":"r"},{"t":20,"v":810,"s":"r"},{"t":21,"v":800,"s":"r"},{"t":22,"v":800,"s":"r"},{"t":23,"v":1030,"s":"r"},{"t":24,"v":900,"s":"r"},{"t":25,"v":960,"s":"r"},{"t":26,"v":920,"s":"r"},{"t":27,"v":1030,"s":"r"},{"t":28,"v":1050,"s":"r"},{"t":29,"v":1040,"s":"r"},{"t":30,"v":1100,"s":"r"},{"t":31,"v":1200,"s":"r"},{"t":32,"v":1100,"s":"r"},{"t":33,"v":1150,"s":"r"},{"t":34,"v":1200,"s":"r"},{"t":35,"v":1280,"s":"r"},{"t":36,"v":1400,"s":"r"},{"t":37,"v":1440,"s":"r"},{"t":38,"v":1380,"s":"r"},{"t":39,"v":1400,"s":"r"},{"t":40,"v":1410,"s":"r"},{"t":41,"v":1380,"s":"r"},{"t":42,"v":1390,"s":"r"},{"t":43,"v":1410,"s":"r"},{"t":44,"v":1450,"s":"r"},{"t":45,"v":1390,"s":"r"},{"t":46,"v":1400,"s":"r"},{"t":47,"v":1410,"s":"r"},{"t":48,"v":1420,"s":"r"},{"t":49,"v":1400,"s":"r"},{"t":50,"v":1380,"s":"r"},{"t":51,"v":1390,"s":"r"},{"t":52,"v":1400,"s":"r"},{"t":53,"v":1380,"s":"r"},{"t":54,"v":1430,"s":"r"},{"t":55,"v":1400,"s":"r"},{"t":56,"v":1380,"s":"r"},{"t":57,"v":1390,"s":"r"},{"t":58,"v":1400,"s":"r"},{"t":59,"v":1410,"s":"r"},{"t":60,"v":1420,"s":"r"},{"t":61,"v":1430,"s":"r"},{"t":62,"v":1460,"s":"r"},{"t":63,"v":1420,"s":"r"},{"t":64,"v":1400,"s":"r"},{"t":65,"v":1420,"s":"r"},{"t":66,"v":1430,"s":"r"},{"t":67,"v":1450,"s":"r"},{"t":68,"v":1460,"s":"r"},{"t":69,"v":1450,"s":"r"},{"t":70,"v":1440,"s":"r"},{"t":71,"v":1460,"s":"r"},{"t":72,"v":1470,"s":"r"},{"t":73,"v":1460,"s":"r"},{"t":74,"v":1450,"s":"r"},{"t":75,"v":1470,"s":"r"},{"t":76,"v":1480,"s":"r"},{"t":77,"v":1460,"s":"r"},{"t":78,"v":1450,"s":"r"},{"t":79,"v":1440,"s":"r"},{"t":80,"v":1430,"s":"r"},{"t":81,"v":1410,"s":"r"},{"t":82,"v":1400,"s":"r"},{"t":83,"v":1400,"s":"r"},{"t":84,"v":1390,"s":"r"},{"t":85,"v":1390,"s":"r"},{"t":86,"v":1380,"s":"r"},{"t":87,"v":1380,"s":"r"},{"t":88,"v":1370,"s":"r"},{"t":89,"v":1360,"s":"r"},{"t":90,"v":1360,"s":"r"},{"t":91,"v":1360,"s":"r"},{"t":92,"v":1200,"s":"r"},{"t":93,"v":1100,"s":"r"},{"t":94,"v":1000,"s":"r"},{"t":95,"v":950,"s":"r"},{"t":96,"v":900,"s":"r"},{"t":97,"v":850,"s":"r"},{"t":98,"v":800,"s":"r"},{"t":99,"v":780,"s":"r"},{"t":100,"v":790,"s":"r"},{"t":101,"v":800,"s":"r"},{"t":102,"v":800,"s":"r"},{"t":103,"v":790,"s":"r"},{"t":104,"v":780,"s":"r"},{"t":105,"v":775,"s":"r"},{"t":106,"v":770,"s":"r"},{"t":107,"v":770,"s":"r"},{"t":108,"v":770,"s":"r"},{"t":109,"v":765,"s":"r"},{"t":110,"v":760,"s":"r"},{"t":111,"v":765,"s":"r"},{"t":112,"v":770,"s":"r"},{"t":113,"v":760,"s":"r"},{"t":114,"v":750,"s":"r"},{"t":115,"v":760,"s":"r"},{"t":116,"v":760,"s":"r"},{"t":117,"v":750,"s":"r"},{"t":118,"v":750,"s":"r"},{"t":119,"v":950,"s":"r"},{"t":120,"v":880,"s":"r"},{"t":121,"v":960,"s":"r"},{"t":122,"v":900,"s":"r"},{"t":123,"v":1000,"s":"r"},{"t":124,"v":950,"s":"r"},{"t":125,"v":1020,"s":"r"},{"t":126,"v":960,"s":"r"},{"t":127,"v":1000,"s":"r"},{"t":128,"v":1050,"s":"r"},{"t":129,"v":1000,"s":"r"},{"t":130,"v":1100,"s":"r"},{"t":131,"v":1050,"s":"r"},{"t":132,"v":1150,"s":"r"},{"t":133,"v":1250,"s":"r"},{"t":134,"v":1330,"s":"r"},{"t":135,"v":1300,"s":"r"},{"t":136,"v":1200,"s":"r"},{"t":137,"v":1150,"s":"r"},{"t":138,"v":1100,"s":"r"},{"t":139,"v":1080,"s":"r"},{"t":140,"v":1060,"s":"r"},
{"t":140,"v":1060,"s":"q"},{"t":141,"v":1040,"s":"q"},{"t":142,"v":1030,"s":"q"},{"t":143,"v":1050,"s":"q"},{"t":144,"v":1050,"s":"q"},{"t":145,"v":1070,"s":"q"},{"t":146,"v":1060,"s":"q"},{"t":147,"v":1080,"s":"q"},{"t":148,"v":1050,"s":"q"},{"t":149,"v":1070,"s":"q"},{"t":150,"v":1090,"s":"q"},{"t":151,"v":1070,"s":"q"},{"t":152,"v":1060,"s":"q"},{"t":153,"v":1050,"s":"q"},{"t":154,"v":1040,"s":"q"},{"t":155,"v":1060,"s":"q"},{"t":156,"v":1070,"s":"q"},{"t":157,"v":1060,"s":"q"},{"t":158,"v":1050,"s":"q"},{"t":159,"v":1060,"s":"q"},{"t":160,"v":1060,"s":"q"},{"t":161,"v":1050,"s":"q"},{"t":162,"v":1040,"s":"q"},{"t":163,"v":1050,"s":"q"},{"t":164,"v":1060,"s":"q"},{"t":165,"v":1060,"s":"q"},{"t":166,"v":1070,"s":"q"},{"t":167,"v":1080,"s":"q"},{"t":168,"v":1090,"s":"q"},{"t":169,"v":1090,"s":"q"},{"t":170,"v":1100,"s":"q"},{"t":171,"v":1110,"s":"q"},{"t":172,"v":1120,"s":"q"},{"t":173,"v":1100,"s":"q"},{"t":174,"v":1080,"s":"q"},{"t":175,"v":1090,"s":"q"},{"t":176,"v":1060,"s":"q"},{"t":177,"v":1050,"s":"q"},{"t":178,"v":1040,"s":"q"},{"t":179,"v":1040,"s":"q"},{"t":180,"v":1030,"s":"q"},{"t":181,"v":1030,"s":"q"},{"t":182,"v":1020,"s":"q"},{"t":183,"v":1030,"s":"q"},{"t":184,"v":1030,"s":"q"},{"t":185,"v":1020,"s":"q"},{"t":186,"v":1010,"s":"q"},{"t":187,"v":1000,"s":"q"},{"t":188,"v":1000,"s":"q"},{"t":189,"v":950,"s":"q"},{"t":190,"v":850,"s":"q"},{"t":191,"v":700,"s":"q"},{"t":192,"v":610,"s":"q"}
]
},
"vconcat": [
{"hconcat": [
  {"width": 10, "height": 10, "view": {"stroke": null}, "data": {"values": []}, "mark": "point"},
  {"width": 220, "height": 183, "data": {"name": "a"},
   "title": {"text": ["(a) Anomaly type 1: negative", "power spike followed by zero", "values and positive spike."]},
   "resolve": {"axis": {"x": "independent", "y": "independent"}},
   "layer": [
    {"transform": [{"filter": "datum.s=='g'"}], "mark": {"type": "line", "color": "#808080", "strokeWidth": 1.4},
     "encoding": {"x": {"field": "t", "type": "quantitative", "scale": {"domain": [-8.6, 106.6], "nice": false, "zero": false}, "axis": {"values": [0, 50, 100], "title": "Time"}},
                  "y": {"field": "v", "type": "quantitative", "scale": {"domain": [-2960, 12160], "nice": false, "zero": false}, "axis": {"values": [0, 5000, 10000], "format": ",d", "title": "Electrical load in kW", "labelPadding": 13}}}},
    {"transform": [{"filter": "datum.s=='r'"}], "mark": {"type": "line", "color": "#ff0000", "strokeWidth": 1.4},
     "encoding": {"x": {"field": "t", "type": "quantitative", "axis": {"orient": "top", "values": [0, 50, 100], "labels": false, "title": null}},
                  "y": {"field": "v", "type": "quantitative", "axis": {"orient": "right", "values": [0, 5000, 10000], "labels": false, "title": null}}}}
   ]},
  {"width": 114.7, "height": 10, "view": {"stroke": null}, "data": {"values": []}, "mark": "point"},
  {"width": 221, "height": 183, "data": {"name": "b"},
   "title": {"text": ["(b) Anomaly type 2: zero power", "values followed by a positive", "spike."]},
   "resolve": {"axis": {"x": "independent", "y": "independent"}},
   "layer": [
    {"transform": [{"filter": "datum.s=='g'"}], "mark": {"type": "line", "color": "#808080", "strokeWidth": 1.4},
     "encoding": {"x": {"field": "t", "type": "quantitative", "scale": {"domain": [-8.6, 106.6], "nice": false, "zero": false}, "axis": {"values": [0, 50, 100], "title": "Time"}},
                  "y": {"field": "v", "type": "quantitative", "scale": {"domain": [-840, 9240], "nice": false, "zero": false}, "axis": {"values": [0, 2000, 4000, 6000, 8000], "format": ",d", "title": "Electrical load in kW", "labelPadding": 8}}}},
    {"transform": [{"filter": "datum.s=='r'"}], "mark": {"type": "line", "color": "#ff0000", "strokeWidth": 1.4},
     "encoding": {"x": {"field": "t", "type": "quantitative", "axis": {"orient": "top", "values": [0, 50, 100], "labels": false, "title": null}},
                  "y": {"field": "v", "type": "quantitative", "axis": {"orient": "right", "values": [0, 2000, 4000, 6000, 8000], "labels": false, "title": null}}}}
   ]},
  {"width": 137.6, "height": 10, "view": {"stroke": null}, "data": {"values": []}, "mark": "point"},
  {"width": 221, "height": 183, "data": {"name": "c"},
   "title": {"text": ["(c) Anomaly type 3: negative", "power spike."]},
   "resolve": {"axis": {"x": "independent", "y": "independent"}},
   "layer": [
    {"transform": [{"filter": "datum.s=='g'"}], "mark": {"type": "line", "color": "#808080", "strokeWidth": 1.4},
     "encoding": {"x": {"field": "t", "type": "quantitative", "scale": {"domain": [-8.6, 106.6], "nice": false, "zero": false}, "axis": {"values": [0, 50, 100], "title": "Time"}},
                  "y": {"field": "v", "type": "quantitative", "scale": {"domain": [-2485, 1775], "nice": false, "zero": false}, "axis": {"values": [-2000, -1000, 0, 1000], "format": ",d", "title": "Electrical load in kW", "labelPadding": 15}}}},
    {"transform": [{"filter": "datum.s=='r'"}], "mark": {"type": "line", "color": "#ff0000", "strokeWidth": 1.4},
     "encoding": {"x": {"field": "t", "type": "quantitative", "axis": {"orient": "top", "values": [0, 50, 100], "labels": false, "title": null}},
                  "y": {"field": "v", "type": "quantitative", "axis": {"orient": "right", "values": [-2000, -1000, 0, 1000], "labels": false, "title": null}}}}
   ]},
  {"width": 111.4, "height": 10, "view": {"stroke": null}, "data": {"values": []}, "mark": "point"},
  {"width": 220, "height": 183, "data": {"name": "d"},
   "title": {"text": ["(d) Anomaly type 4: positive", "power spike."]},
   "resolve": {"axis": {"x": "independent", "y": "independent"}},
   "layer": [
    {"transform": [{"filter": "datum.s=='g'"}], "mark": {"type": "line", "color": "#808080", "strokeWidth": 1.4},
     "encoding": {"x": {"field": "t", "type": "quantitative", "scale": {"domain": [-8.6, 106.6], "nice": false, "zero": false}, "axis": {"values": [0, 50, 100], "title": "Time"}},
                  "y": {"field": "v", "type": "quantitative", "scale": {"domain": [270, 1524], "nice": false, "zero": false}, "axis": {"values": [500, 1000, 1500], "format": ",d", "title": "Electrical load in kW", "labelPadding": 8}}}},
    {"transform": [{"filter": "datum.s=='r'"}], "mark": {"type": "line", "color": "#ff0000", "strokeWidth": 1.4},
     "encoding": {"x": {"field": "t", "type": "quantitative", "axis": {"orient": "top", "values": [0, 50, 100], "labels": false, "title": null}},
                  "y": {"field": "v", "type": "quantitative", "axis": {"orient": "right", "values": [500, 1000, 1500], "labels": false, "title": null}}}}
   ]}
 ], "spacing": 0, "bounds": "flush"},
{"hconcat": [
  {"width": 220, "height": 184, "data": {"name": "e"},
   "title": {"text": ["(e) Anomaly type 5: abrupt", "small temporary reduction in", "the power values."]},
   "resolve": {"axis": {"x": "independent", "y": "independent"}},
   "layer": [
    {"transform": [{"filter": "datum.s=='p'||datum.s=='q'"}], "mark": {"type": "line", "color": "#808080", "strokeWidth": 1.4},
     "encoding": {"x": {"field": "t", "type": "quantitative", "scale": {"domain": [-18.1, 211.1], "nice": false, "zero": false}, "axis": {"values": [0, 100, 200], "title": "Time"}},
                  "y": {"field": "v", "type": "quantitative", "scale": {"domain": [0, 1500], "nice": false, "zero": false}, "axis": {"values": [0, 500, 1000, 1500], "format": ",d", "title": "Electrical load in kW", "labelPadding": 11}},
                  "detail": {"field": "s"}}},
    {"transform": [{"filter": "datum.s=='o'"}], "mark": {"type": "line", "color": "#808080", "strokeWidth": 1.4, "strokeDash": [7, 5]},
     "encoding": {"x": {"field": "t", "type": "quantitative", "axis": null}, "y": {"field": "v", "type": "quantitative", "axis": null}}},
    {"transform": [{"filter": "datum.s=='r'"}], "mark": {"type": "line", "color": "#ff0000", "strokeWidth": 1.4},
     "encoding": {"x": {"field": "t", "type": "quantitative", "axis": {"orient": "top", "values": [0, 100, 200], "labels": false, "title": null}},
                  "y": {"field": "v", "type": "quantitative", "axis": {"orient": "right", "values": [0, 500, 1000, 1500], "labels": false, "title": null}}}}
   ]},
  {"width": 122.5, "height": 10, "view": {"stroke": null}, "data": {"values": []}, "mark": "point"},
  {"width": 221, "height": 184, "data": {"name": "f"},
   "title": {"text": ["(f) Anomaly type 6: abrupt small", "temporary increase in the power", "values."]},
   "resolve": {"axis": {"x": "independent", "y": "independent"}},
   "layer": [
    {"transform": [{"filter": "datum.s=='p'||datum.s=='q'"}], "mark": {"type": "line", "color": "#808080", "strokeWidth": 1.4},
     "encoding": {"x": {"field": "t", "type": "quantitative", "scale": {"domain": [-18.1, 211.1], "nice": false, "zero": false}, "axis": {"values": [0, 100, 200], "title": "Time"}},
                  "y": {"field": "v", "type": "quantitative", "scale": {"domain": [0, 1500], "nice": false, "zero": false}, "axis": {"values": [0, 500, 1000, 1500], "format": ",d", "title": "Electrical load in kW", "labelPadding": 11}},
                  "detail": {"field": "s"}}},
    {"transform": [{"filter": "datum.s=='o'"}], "mark": {"type": "line", "color": "#808080", "strokeWidth": 1.4, "strokeDash": [7, 5]},
     "encoding": {"x": {"field": "t", "type": "quantitative", "axis": null}, "y": {"field": "v", "type": "quantitative", "axis": null}}},
    {"transform": [{"filter": "datum.s=='r'"}], "mark": {"type": "line", "color": "#ff0000", "strokeWidth": 1.4},
     "encoding": {"x": {"field": "t", "type": "quantitative", "axis": {"orient": "top", "values": [0, 100, 200], "labels": false, "title": null}},
                  "y": {"field": "v", "type": "quantitative", "axis": {"orient": "right", "values": [0, 500, 1000, 1500], "labels": false, "title": null}}}}
   ]},
  {"width": 122.5, "height": 10, "view": {"stroke": null}, "data": {"values": []}, "mark": "point"},
  {"width": 221, "height": 184, "data": {"name": "g"},
   "title": {"text": ["(g) Anomaly type 7: small tempo-", "rary reduction in the power val-", "ues with a gradual start and end."]},
   "resolve": {"axis": {"x": "independent", "y": "independent"}},
   "layer": [
    {"transform": [{"filter": "datum.s=='p'||datum.s=='q'"}], "mark": {"type": "line", "color": "#808080", "strokeWidth": 1.4},
     "encoding": {"x": {"field": "t", "type": "quantitative", "scale": {"domain": [-18.1, 211.1], "nice": false, "zero": false}, "axis": {"values": [0, 100, 200], "title": "Time"}},
                  "y": {"field": "v", "type": "quantitative", "scale": {"domain": [0, 1500], "nice": false, "zero": false}, "axis": {"values": [0, 500, 1000, 1500], "format": ",d", "title": "Electrical load in kW", "labelPadding": 11}},
                  "detail": {"field": "s"}}},
    {"transform": [{"filter": "datum.s=='o'"}], "mark": {"type": "line", "color": "#808080", "strokeWidth": 1.4, "strokeDash": [7, 5]},
     "encoding": {"x": {"field": "t", "type": "quantitative", "axis": null}, "y": {"field": "v", "type": "quantitative", "axis": null}}},
    {"transform": [{"filter": "datum.s=='r'"}], "mark": {"type": "line", "color": "#ff0000", "strokeWidth": 1.4},
     "encoding": {"x": {"field": "t", "type": "quantitative", "axis": {"orient": "top", "values": [0, 100, 200], "labels": false, "title": null}},
                  "y": {"field": "v", "type": "quantitative", "axis": {"orient": "right", "values": [0, 500, 1000, 1500], "labels": false, "title": null}}}}
   ]},
  {"width": 122.5, "height": 10, "view": {"stroke": null}, "data": {"values": []}, "mark": "point"},
  {"width": 221, "height": 184, "data": {"name": "h"},
   "title": {"text": ["(h) Anomaly type 8: small tem-", "porary increase in the power val-", "ues with a gradual start and end."]},
   "resolve": {"axis": {"x": "independent", "y": "independent"}},
   "layer": [
    {"transform": [{"filter": "datum.s=='p'||datum.s=='q'"}], "mark": {"type": "line", "color": "#808080", "strokeWidth": 1.4},
     "encoding": {"x": {"field": "t", "type": "quantitative", "scale": {"domain": [-18.1, 211.1], "nice": false, "zero": false}, "axis": {"values": [0, 100, 200], "title": "Time"}},
                  "y": {"field": "v", "type": "quantitative", "scale": {"domain": [0, 1500], "nice": false, "zero": false}, "axis": {"values": [0, 500, 1000, 1500], "format": ",d", "title": "Electrical load in kW", "labelPadding": 11}},
                  "detail": {"field": "s"}}},
    {"transform": [{"filter": "datum.s=='o'"}], "mark": {"type": "line", "color": "#808080", "strokeWidth": 1.4, "strokeDash": [7, 5]},
     "encoding": {"x": {"field": "t", "type": "quantitative", "axis": null}, "y": {"field": "v", "type": "quantitative", "axis": null}}},
    {"transform": [{"filter": "datum.s=='r'"}], "mark": {"type": "line", "color": "#ff0000", "strokeWidth": 1.4},
     "encoding": {"x": {"field": "t", "type": "quantitative", "axis": {"orient": "top", "values": [0, 100, 200], "labels": false, "title": null}},
                  "y": {"field": "v", "type": "quantitative", "axis": {"orient": "right", "values": [0, 500, 1000, 1500], "labels": false, "title": null}}}}
   ]}
 ], "spacing": 0, "bounds": "flush"}
],
"spacing": 10
}
